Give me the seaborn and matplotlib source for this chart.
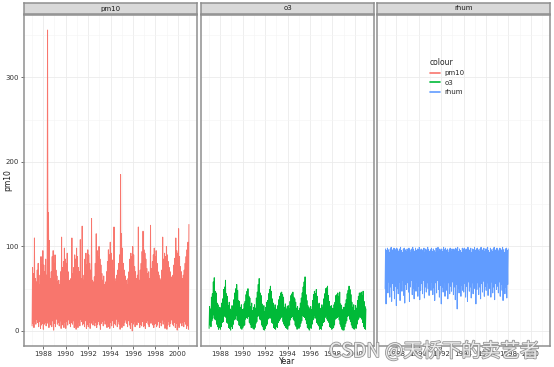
import numpy as np
import pandas as pd
import matplotlib
matplotlib.use("Agg")
import matplotlib.pyplot as plt
import matplotlib.patheffects as pe
from matplotlib.lines import Line2D
import seaborn as sns

# valores mensais (máximo e mínimo)
pm10_hi = [
    75, 68, 110, 62, 58, 72, 80, 55, 66, 88, 78, 95,
    78, 70, 85, 66, 356, 140, 107, 62, 70, 88, 95, 80,
    90, 72, 65, 58, 60, 55, 70, 111, 75, 82, 98, 85,
    80, 92, 70, 60, 58, 62, 110, 68, 75, 90, 85, 98,
    88, 75, 70, 108, 62, 124, 60, 66, 85, 92, 78, 96,
    90, 80, 72, 133, 60, 58, 64, 80, 115, 95, 88, 100,
    85, 78, 68, 60, 65, 55, 58, 70, 82, 96, 90, 105,
    92, 84, 74, 123, 62, 58, 66, 72, 80, 90, 185, 115,
    98, 80, 72, 65, 60, 55, 62, 70, 85, 92, 88, 100,
    90, 76, 70, 62, 66, 123, 60, 72, 80, 94, 118, 96,
    92, 85, 74, 68, 70, 62, 125, 74, 82, 90, 98, 88,
    95, 80, 70, 66, 62, 60, 72, 111, 85, 92, 88, 100,
    90, 82, 75, 70, 64, 60, 66, 78, 86, 110, 95, 92,
    121, 88, 76, 70, 62, 66, 72, 80, 88, 96, 105, 126,
]
pm10_lo = [
    6, 9, 4, 12, 8, 14, 10, 5, 11, 3, 7, 9,
    2, 8, 10, 6, 13, 9, 4, 11, 7, 5, 12, 1,
    9, 5, 14, 8, 10, 6, 12, 3, 9, 7, 4, 10,
    3, 11, 7, 13, 9, 5, 10, 8, 12, 4, 6, 2,
    8, 4, 10, 6, 14, 11, 7, 9, 5, 12, 3, 8,
    5, 10, 3, 9, 12, 7, 13, 6, 10, 4, 8, 11,
    7, 2, 9, 11, 6, 13, 8, 10, 4, 9, 5, 3,
    10, 6, 12, 4, 9, 7, 14, 5, 11, 8, 2, 9,
    4, 8, 6, 10, 13, 9, 5, 12, 7, 3, 10, 0,
    8, 11, 5, 9, 7, 12, 10, 4, 8, 6, 11, 5,
    6, 3, 10, 12, 8, 5, 11, 9, 13, 7, 4, 8,
    9, 5, 7, 11, 4, 10, 6, 13, 8, 12, 3, 6,
    2, 7, 11, 5, 9, 13, 8, 6, 10, 4, 9, 1,
    7, 4, 9, 12, 6, 10, 5, 11, 8, 3, 6, 2,
]
o3_hi = [
    29, 26, 40, 44, 58, 63, 47, 45, 33, 31, 25, 28,
    27, 33, 38, 49, 52, 60, 44, 41, 30, 34, 26, 24,
    30, 27, 37, 45, 50, 55, 48, 36, 35, 28, 31, 25,
    26, 32, 35, 43, 47, 50, 41, 39, 29, 33, 24, 28,
    31, 27, 39, 46, 55, 62, 45, 42, 32, 29, 30, 23,
    28, 34, 36, 44, 49, 53, 47, 38, 33, 27, 31, 26,
    25, 30, 37, 41, 45, 46, 43, 40, 28, 32, 26, 29,
    30, 26, 35, 42, 44, 46, 40, 38, 34, 27, 29, 24,
    27, 33, 39, 45, 52, 58, 64, 43, 36, 30, 28, 26,
    29, 25, 36, 43, 47, 44, 49, 41, 31, 33, 27, 25,
    31, 28, 38, 44, 50, 51, 53, 42, 35, 29, 30, 27,
    26, 31, 34, 42, 43, 45, 41, 46, 32, 30, 25, 28,
    28, 32, 37, 44, 48, 53, 49, 43, 34, 28, 31, 24,
    30, 27, 36, 41, 45, 44, 46, 42, 47, 35, 29, 26,
]
o3_lo = [
    3, 7, 5, 12, 15, 19, 14, 13, 8, 5, 2, 4,
    2, 5, 10, 11, 18, 17, 16, 10, 9, 4, 3, 1,
    5, 3, 8, 13, 14, 18, 13, 12, 7, 6, 3, 2,
    4, 6, 7, 14, 16, 15, 17, 10, 8, 4, 5, 3,
    2, 4, 9, 11, 17, 18, 14, 13, 7, 5, 2, 1,
    3, 6, 8, 14, 15, 19, 15, 10, 9, 4, 3, 2,
    5, 4, 10, 12, 14, 16, 17, 11, 8, 6, 4, 3,
    2, 6, 7, 13, 16, 17, 14, 12, 7, 5, 2, 4,
    3, 5, 9, 12, 18, 17, 16, 13, 9, 4, 3, 1,
    4, 3, 8, 13, 15, 19, 15, 10, 8, 6, 2, 3,
    2, 6, 10, 11, 16, 18, 14, 12, 10, 5, 4, 2,
    3, 4, 7, 14, 15, 16, 17, 13, 8, 5, 2, 1,
    1, 5, 9, 12, 17, 18, 14, 11, 7, 4, 3, 2,
    4, 3, 8, 13, 15, 17, 16, 14, 10, 5, 3, 2,
]
rhum_hi = [
    97, 95, 98, 96, 93, 97, 99, 96, 94, 98, 97, 95,
    98, 96, 94, 97, 99, 95, 93, 97, 98, 96, 94, 97,
    95, 98, 96, 93, 97, 99, 96, 94, 98, 95, 97, 96,
    99, 95, 97, 94, 96, 98, 93, 97, 95, 99, 96, 94,
    96, 98, 94, 97, 95, 93, 98, 96, 99, 94, 97, 95,
    97, 94, 99, 96, 98, 95, 97, 93, 96, 98, 94, 97,
    94, 97, 95, 98, 96, 99, 94, 97, 95, 93, 98, 96,
    98, 95, 97, 94, 99, 96, 95, 98, 93, 97, 96, 99,
    95, 97, 98, 96, 94, 97, 99, 95, 96, 98, 94, 97,
    97, 99, 95, 93, 98, 96, 94, 97, 99, 95, 96, 98,
    96, 94, 98, 97, 95, 99, 96, 93, 97, 98, 95, 97,
]
rhum_lo = [
    50, 32, 55, 45, 58, 40, 52, 35, 56, 48, 38, 53,
    30, 50, 44, 58, 36, 54, 47, 60, 42, 33, 55, 49,
    57, 46, 35, 52, 60, 43, 50, 38, 55, 47, 58, 41,
    53, 37, 48, 56, 44, 60, 39, 52, 46, 57, 50, 42,
    55, 48, 58, 43, 51, 36, 57, 45, 60, 49, 40, 54,
    32, 52, 46, 58, 41, 55, 48, 38, 57, 44, 53, 47,
    58, 43, 52, 37, 55, 26, 50, 45, 59, 41, 54, 48,
    46, 56, 40, 53, 35, 58, 47, 52, 39, 57, 44, 50,
    55, 32, 49, 57, 43, 52, 38, 56, 46, 59, 41, 53,
    48, 57, 42, 54, 50, 40, 58, 45, 52, 37, 56, 49,
    53, 45, 58, 41, 55, 48, 36, 57, 44, 52, 39, 55,
]

series = ["pm10", "o3", "rhum"]
cores = {"pm10": "#F8766D", "o3": "#00BA38", "rhum": "#619CFF"}
dados = {"pm10": (pm10_hi, pm10_lo), "o3": (o3_hi, o3_lo), "rhum": (rhum_hi, rhum_lo)}


def long_df(hi, lo):
    # cada mês vira dois pontos: mínimo e depois máximo
    rows = []
    for i in range(len(hi)):
        rows.append((1987 + (i + 0.25) / 12, lo[i]))
        rows.append((1987 + (i + 0.75) / 12, hi[i]))
    return pd.DataFrame(rows, columns=["Year", "valor"])


sns.set_style("white")
fig = plt.figure(figsize=(5.54, 3.67), dpi=100)
W, H = 554, 367
paineis = [(24, 197), (201, 374), (377, 550)]
top_px, bot_px = 15, 346
borda = "#8f8f8f"

axes = []
for k, nome in enumerate(series):
    x0, x1 = paineis[k]
    ax = fig.add_axes([x0 / W, 1 - bot_px / H, (x1 - x0) / W, (bot_px - top_px) / H])
    axes.append(ax)
    hi, lo = dados[nome]
    df = long_df(hi, lo)
    sns.lineplot(data=df, x="Year", y="valor", ax=ax, color=cores[nome],
                 lw=0.7, estimator=None, sort=False, legend=False)
    ax.set_xlim(1986.3, 2001.7)
    ax.set_ylim(-17.8, 373.8)
    ax.set_xticks([1988, 1990, 1992, 1994, 1996, 1998, 2000])
    ax.set_xticks(range(1987, 2002, 2), minor=True)
    ax.set_yticks([0, 100, 200, 300])
    ax.set_yticks([50, 150, 250, 350], minor=True)
    ax.grid(True, which="major", color="#EBEBEB", lw=0.6)
    ax.grid(True, which="minor", color="#F4F4F4", lw=0.4)
    ax.set_axisbelow(True)
    ax.tick_params(axis="both", which="major", labelsize=5, length=2, width=0.5,
                   color="#333333", labelcolor="#333333", pad=1.5)
    ax.tick_params(which="minor", length=0)
    ax.tick_params(left=(k == 0), labelleft=(k == 0), bottom=True)
    for s in ax.spines.values():
        s.set_color(borda)
        s.set_linewidth(1.1)
    ax.set_xlabel("")
    ax.set_ylabel("")

    # faixa do título do painel
    st = fig.add_axes([x0 / W, 1 - 14 / H, (x1 - x0) / W, 11 / H])
    st.set_facecolor("#D9D9D9")
    st.set_xticks([])
    st.set_yticks([])
    for s in st.spines.values():
        s.set_color(borda)
        s.set_linewidth(1.1)
    st.text(0.5, 0.5, nome, ha="center", va="center", fontsize=5, color="#1a1a1a",
            transform=st.transAxes)

fig.text(8 / W, 1 - 180 / H, "pm10", rotation=90, ha="center", va="center",
         fontsize=5.5, color="#1a1a1a")
fig.text(287 / W, 1 - 361 / H, "Year", ha="center", va="center", fontsize=5.5, color="#1a1a1a")

handles = [Line2D([0], [0], color=cores[n], lw=1.2) for n in series]
leg = axes[2].legend(handles, series, title="colour", loc="upper left",
                     bbox_to_anchor=(0.27, 0.89), frameon=False, fontsize=5,
                     title_fontsize=5.5, handlelength=1.5, handletextpad=0.6,
                     labelspacing=0.5, alignment="left")

# marca d'água
wm = fig.text(329 / W, 1 - 357 / H, "CSDN @天桥下的卖艺者", ha="left", va="baseline",
              fontsize=14, color="#f4f4f4", alpha=0.9,
              family=["Noto Sans CJK SC", "DejaVu Sans"])
wm.set_path_effects([pe.withStroke(linewidth=1.2, foreground="#8a8a8a")])

fig.savefig("out.png", dpi=100)
